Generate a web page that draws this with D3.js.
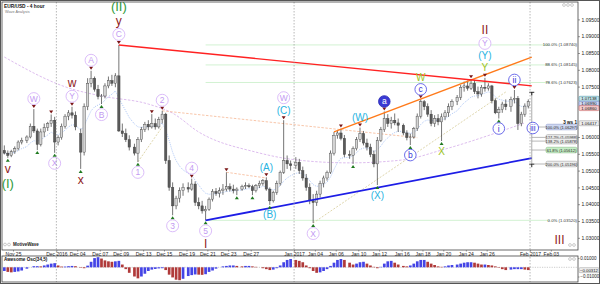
<!DOCTYPE html>
<html lang="en">
<head>
<meta charset="UTF-8">
<title>EUR/USD - 4 hour</title>
<style>
  body { margin: 0; background: #fff; }
  svg { display: block; font-family: "Liberation Sans", Arial, sans-serif; }
  .ax text { font-size: 5px; fill: #222; }
  .ax line { stroke: #555; stroke-width: 0.6; }
  .ax path { display: none; }
</style>
</head>
<body>
<script src="https://d3js.org/d3.v7.min.js"></script>
<script>
// trading days (a one-slot Sunday session sits between weeks)
const days = ["2016-11-24","2016-11-25","2016-11-28","2016-11-29","2016-11-30",
  "2016-12-01","2016-12-02","2016-12-05","2016-12-06","2016-12-07","2016-12-08","2016-12-09",
  "2016-12-12","2016-12-13","2016-12-14","2016-12-15","2016-12-16",
  "2016-12-19","2016-12-20","2016-12-21","2016-12-22","2016-12-23",
  "2016-12-26","2016-12-27","2016-12-28","2016-12-29","2016-12-30",
  "2017-01-02","2017-01-03","2017-01-04","2017-01-05","2017-01-06",
  "2017-01-09","2017-01-10","2017-01-11","2017-01-12","2017-01-13",
  "2017-01-16","2017-01-17","2017-01-18","2017-01-19","2017-01-20",
  "2017-01-23","2017-01-24","2017-01-25","2017-01-26","2017-01-27",
  "2017-01-30","2017-01-31","2017-02-01","2017-02-02","2017-02-03","2017-02-06"];

// 8-hour bars, three per day: open, high, low, close in pips above 1.0000
const ohlc = [
  [560,575,548,552],[552,560,538,545],[545,562,540,556],
  [556,572,550,565],[565,590,560,585],[585,598,578,590],
  [590,605,582,600],[600,640,596,632],[632,683,612,618],
  [618,625,561,578],[578,625,572,615],[615,640,600,628],
  [628,645,618,640],[640,667,630,650],[650,660,553,585],
  [585,605,575,598],[598,640,592,632],[632,668,625,662],
  [662,680,650,672],[672,690,655,665],[665,676,620,630],
  [610,625,505,555],[555,700,545,690],[690,775,680,760],
  [760,797,748,775],[775,780,735,742],[742,755,712,720],
  [720,728,698,722],[722,760,715,752],[752,780,745,768],
  [768,785,752,760],[760,790,748,782],[782,874,615,618],
  [618,640,600,610],[610,625,585,592],[592,605,560,570],
  [570,580,545,552],[552,600,526,592],[592,630,585,622],
  [622,645,615,638],[638,650,620,630],[630,668,625,640],
  [640,655,622,630],[630,660,625,652],[652,678,640,668],
  [668,672,520,530],[530,545,440,450],[450,465,367,395],
  [395,425,385,418],[418,450,405,440],[440,462,425,450],
  [450,465,435,445],[445,476,440,460],[460,468,395,405],
  [405,420,385,395],[395,410,372,380],[380,395,352,385],
  [385,420,380,415],[415,445,408,438],[438,448,425,432],
  [432,450,420,440],[440,460,428,445],[445,495,438,452],
  [452,462,438,445],[445,458,432,440],[440,450,427,445],
  [445,458,440,452],[452,465,445,455],[455,462,448,452],
  [452,458,427,440],[440,460,435,455],[455,470,448,462],
  [462,475,455,470],[470,480,440,445],[445,450,398,410],
  [410,440,405,435],[435,470,428,462],[462,500,455,495],
  [495,650,490,530],[530,545,505,520],[520,530,500,515],
  [515,540,505,525],[525,535,490,500],[500,512,470,478],
  [478,490,440,450],[450,462,400,410],[410,430,344,405],
  [405,440,395,430],[430,470,420,462],[462,485,450,478],
  [478,500,470,495],[495,560,490,552],[552,615,545,605],
  [605,618,595,612],[612,625,590,596],[596,606,540,548],
  [548,560,535,545],[545,572,520,565],[565,600,560,592],
  [592,628,585,610],[610,618,575,582],[582,595,560,570],
  [570,580,540,548],[548,560,510,520],[520,600,457,590],
  [590,630,585,622],[622,676,615,655],[655,668,630,640],
  [640,660,625,650],[650,670,635,642],[642,655,615,635],
  [635,640,605,612],[612,620,590,598],[598,610,576,600],
  [600,630,595,625],[625,670,618,662],[662,712,655,705],
  [705,710,680,690],[690,700,660,668],[668,680,632,640],
  [640,665,630,655],[655,668,635,645],[645,670,588,660],
  [660,680,650,672],[672,700,660,690],[690,712,680,705],
  [705,725,695,718],[718,755,710,748],[748,765,735,752],
  [752,768,738,745],[745,772,740,760],[760,770,728,735],
  [735,750,715,728],[728,755,720,748],[748,776,735,745],
  [745,760,738,752],[752,755,700,708],[708,715,668,672],
  [672,690,655,682],[682,705,672,698],[698,712,680,690],
  [690,720,675,712],[712,740,700,715],[715,722,621,640],
  [640,675,632,668],[668,700,660,692],[692,712,685,705]
];

// Awesome Oscillator, one value per bar, in 0.001
const ao = [
  -4,-5,-5.5, -5,-4.5,-3.5, -1.5,0,1.2, 1.2,1,2, 3,4,4.5, 2,0.8,0.8, 1.2,1.5,1.2,
  -0.5,-1,1.8, 6,10,11, 9.5,7.5,6.5, 6,6.5,7, 3,-2,-6, -10,-12,-10, -7,-4,-2.5,
  -1.8,-1.2,-1, -3,-8,-11, -13.5,-14,-12.5, -9.5,-8.5,-7.8, -8,-8.2,-7.5, -5,-3.5,-1.5,
  0,1,1.5, 2,2,1.5, 1,1.5,1.5, 1,0.5,0, -1,-2,-3, -2.5,-1,2, 5.5,8,9,
  8,7,5.5, 2,-1,-4, -6,-5.5,-4, -2,1.5,5, 8,9,8, 5,3,4, 5.5,6,4,
  2,0.5,-1, 0.5,4,6.5, 7,5,3, 1.5,1,2, 4,6.5,8, 8,6,4, 2.5,1,0.5,
  1,2,2.5, 3,4,5, 5.5,5.5,5, 4,3,3, 2.5,2,1, -0.5,-2,-3, -2.5,-2,-2, -2,-2.5,-3
];

// slow moving average [bar, pips]
const slowMA = [[0,838],[18,746],[27,722],[40,698],[47,671],[54,615],[70,555],
  [81,532],[96,523],[111,532],[122,561],[145,642]];

// wave pivots: bar, side, labels (text, style)
const pivots = [
  [1,"L",[["v","r"],["(I)","g"]]], [8,"H",[["W","p"]]], [9,"L",[]], [13,"H",[]],
  [14,"L",[["X","p"]]], [19,"H",[["Y","p"],["w","r"]]], [21,"L",[["x","r"]]],
  [24,"H",[["A","p"]]], [27,"L",[["B","p"]]], [32,"H",[["C","p"],["y","r"],["(II)","g"]]],
  [37,"L",[["1","p"]]], [41,"H",[]], [44,"H",[["2","p"]]], [47,"L",[["3","p"]]],
  [52,"H",[["4","p"]]], [56,"L",[["5","p"],["I","r"]]], [62,"H",[]], [65,"L",[]], [69,"L",[]],
  [73,"H",[["(A)","c"]]], [74,"L",[["(B)","c"]]], [78,"H",[["(C)","c"],["W","p"]]],
  [86,"L",[["X","p"]]], [94,"H",[]], [97,"L",[]], [99,"H",[["(W)","c"]]],
  [104,"L",[["(X)","c"]]], [106,"H",[["a","B"]]], [113,"L",[["b","b"]]],
  [116,"H",[["c","b"],["W","o"]]], [122,"L",[["X","o"]]], [130,"H",[]],
  [134,"H",[["Y","o"],["(Y)","c"],["Y","p"],["II","r"]]], [138,"L",[["i","b"]]],
  [142,"H",[["ii","b"]]]
];

// trend lines [bar, price]
const redLine = [[32,1.0874],[147,1.0752]];
const orangeLine = [[92,1.0615],[147,1.0838]];
const blueLine = [[56,1.0352],[147,1.0537]];
const tanLines = [[[86,1.0344],[140,1.0734]], [[37,1.0526],[44,1.0630]]];
const salmonLines = [[[44,1.0678],[115,1.0598]], [[62,1.0495],[73,1.0478]]];

const fibRatios = [1, 0.886, 0.786, 0];
const projLevels = [["100.0%", 1.06297], ["127.2%", 1.05988], ["138.2%", 1.05878],
  ["61.8%", 1.05612], ["200.0%", 1.05196]];
const quoteBoxes = [1.07138, 1.06990, 1.06860];
const lineBox = [1.0641, "1.06417"];
const aoBox = -0.00312;

const dateTicks = [["Nov 25","2016-11-25"],["Dec 2016","2016-12-01"],["Dec 04","2016-12-04"],
  ["Dec 07","2016-12-07"],["Dec 09","2016-12-09"],["Dec 13","2016-12-13"],["Dec 15","2016-12-15"],
  ["Dec 19","2016-12-19"],["Dec 21","2016-12-21"],["Dec 23","2016-12-23"],["Dec 27","2016-12-27"],
  ["Jan 2017","2017-01-02"],["Jan 04","2017-01-04"],["Jan 06","2017-01-06"],["Jan 10","2017-01-10"],
  ["Jan 12","2017-01-12"],["Jan 16","2017-01-16"],["Jan 18","2017-01-18"],["Jan 20","2017-01-20"],
  ["Jan 24","2017-01-24"],["Jan 26","2017-01-26"],["Feb 2017","2017-02-01"],["Feb 03","2017-02-03"]];
const monthStarts = ["2016-12-01","2017-01-02","2017-02-01"];
// price ticks; 1.065 and 1.070 sit under the quote boxes
const priceTicks = [1.03,1.035,1.04,1.045,1.05,1.055,1.06,1.075,1.08,1.085,1.09,1.095];

// ---- layout
const W = 600, H = 284;
const M = { l: 2, r: 578, t: 2, b: 250 };
const O = { t: 256, b: 282 };

const parse = d3.timeParse("%Y-%m-%d");
const dayDates = days.map(parse);
const slotOf = [];
let sl = 0;
dayDates.forEach((d, i) => {
  if (i > 0) sl += 6 + (Math.round((d - dayDates[i - 1]) / 864e5) > 1 ? 1 : 0);
  slotOf.push(sl);
});
function slotOfDate(s) {
  const i = days.indexOf(s);
  if (i >= 0) return slotOf[i];
  const d = parse(s);
  return slotOf[dayDates.findIndex(e => e > d)] - 1;
}
const barSlot = k => slotOf[Math.floor(k / 3)] + 2 * (k % 3) + 1;

const x = d3.scaleLinear().domain([0, 331]).range([2.6, 2.6 + 331 * 1.735]);
const y = d3.scaleLinear().domain([1.03, 1.095]).range([237.8, 19.4]);
const yAO = d3.scaleLinear().domain([-0.015, 0.015]).range([281.1, 253.5]);
const bx = k => x(barSlot(k));
const px = v => 1 + v / 10000;
const f5 = d3.format(".5f");

const bars = ohlc.map(([o, h, l, c]) => ({ o: px(o), h: px(h), l: px(l), c: px(c) }));

const svg = d3.select("body").append("svg").attr("width", W).attr("height", H);
svg.append("rect").attr("width", W).attr("height", H).attr("fill", "#fff");
svg.append("clipPath").attr("id", "mc").append("rect")
  .attr("x", M.l).attr("y", M.t).attr("width", M.r - M.l).attr("height", M.b - M.t);
const g = svg.append("g").attr("clip-path", "url(#mc)");

// fib retracement of the C top to the 5 low
const fHi = bars[32].h, fLo = bars[56].l;
fibRatios.forEach(r => {
  const v = fLo + r * (fHi - fLo);
  g.append("line").attr("x1", bx(56)).attr("x2", 550).attr("y1", y(v)).attr("y2", y(v))
    .attr("stroke", "#d2f2d2").attr("stroke-width", 1);
  svg.append("text").attr("x", 577).attr("y", y(v)).attr("text-anchor", "end")
    .attr("dominant-baseline", "central").attr("font-size", 4.3).attr("fill", "#333")
    .text(d3.format(".1f")(r * 100) + "% (" + f5(v) + ")");
});

// month separators
monthStarts.forEach(s => {
  const xv = x(slotOfDate(s));
  svg.append("line").attr("x1", xv).attr("x2", xv).attr("y1", M.t).attr("y2", O.b)
    .attr("stroke", "#999").attr("stroke-width", 0.7).attr("stroke-dasharray", "1.5,1.5");
});

const line = d3.line().x(d => bx(d[0])).y(d => y(d[1]));

// moving averages
g.append("path").attr("d", d3.line().curve(d3.curveMonotoneX)
    .x(d => bx(d[0])).y(d => y(px(d[1])))(slowMA))
  .attr("fill", "none").attr("stroke", "#d9b6ec").attr("stroke-width", 0.9).attr("stroke-dasharray", "2.5,1.5");
const k = 2 / 11;
let ema = bars[0].c;
const emaPts = bars.map((b, i) => { ema = i ? b.c * k + ema * (1 - k) : b.c; return [i, ema]; });
g.append("path").attr("d", line(emaPts)).attr("fill", "none")
  .attr("stroke", "#95b6f2").attr("stroke-width", 0.8).attr("stroke-dasharray", "1,1.2");

tanLines.forEach(l => g.append("path").attr("d", line(l)).attr("fill", "none")
  .attr("stroke", "#d6cc98").attr("stroke-width", 0.8).attr("stroke-dasharray", "2,1.5"));
salmonLines.forEach(l => g.append("path").attr("d", line(l)).attr("fill", "none")
  .attr("stroke", "#f6b894").attr("stroke-width", 0.8).attr("stroke-dasharray", "2.5,1.5"));

// candles
const cg = g.append("g");
bars.forEach((b, i) => {
  const cx = bx(i), up = b.c >= b.o;
  cg.append("line").attr("x1", cx).attr("x2", cx).attr("y1", y(b.h)).attr("y2", y(b.l))
    .attr("stroke", "#3a3a3a").attr("stroke-width", 0.7);
  const top = y(Math.max(b.o, b.c)), bot = y(Math.min(b.o, b.c));
  cg.append("rect").attr("x", cx - 1.2).attr("width", 2.4).attr("y", top)
    .attr("height", Math.max(0.6, bot - top))
    .attr("fill", up ? "#d4d4d4" : "#5a5a5a").attr("stroke", "#3a3a3a").attr("stroke-width", 0.4);
});

// trend lines
g.append("path").attr("d", line(blueLine)).attr("stroke", "#1d1de6").attr("stroke-width", 1.8).attr("fill", "none");
g.append("path").attr("d", line(orangeLine)).attr("stroke", "#ff7a1a").attr("stroke-width", 1.4).attr("fill", "none");
g.append("path").attr("d", line(redLine)).attr("stroke", "#ff2222").attr("stroke-width", 1.4).attr("fill", "none");

// wave labels
const styles = {
  p: { circle: 1, r: 6, fill: "#fff", stroke: "#d2acf8", color: "#c39af2", fs: 8.5, h: 13 },
  b: { circle: 1, r: 5.8, fill: "#fff", stroke: "#4848e4", color: "#3434d6", fs: 8.5, h: 12 },
  B: { circle: 1, r: 5.8, fill: "#3a3ad4", stroke: "#2a2ab4", color: "#fff", fs: 8.5, h: 12 },
  r: { color: "#8e1b1b", fs: 12, h: 14 },
  g: { color: "#2e9a38", fs: 13, h: 15 },
  c: { color: "#27b3df", fs: 10, h: 12 },
  o: { color: "#9cc41e", fs: 10, h: 12 }
};
function waveLabel(cx, cy, t, st) {
  const S = styles[st];
  if (S.circle) g.append("circle").attr("cx", cx).attr("cy", cy).attr("r", S.r)
    .attr("fill", S.fill).attr("stroke", S.stroke).attr("stroke-width", 0.8);
  g.append("text").attr("x", cx).attr("y", cy).attr("text-anchor", "middle")
    .attr("dominant-baseline", "central").attr("font-size", S.fs).attr("fill", S.color).text(t);
}
pivots.forEach(([i, side, labels]) => {
  const hi = side === "H", cx = bx(i);
  const y0 = hi ? y(bars[i].h) : y(bars[i].l), dir = hi ? -1 : 1;
  const ty = y0 + dir * 1;
  g.append("path").attr("d", `M${cx - 2},${ty + dir * 3}L${cx + 2},${ty + dir * 3}L${cx},${ty}Z`)
    .attr("fill", hi ? "#7a1515" : "#1f7a1f");
  let off = 4;
  labels.forEach(([t, st]) => {
    const h = styles[st].h;
    waveLabel(cx, y0 + dir * (off + h / 2), t, st);
    off += h;
  });
});

// projection from wave ii
const pX = bx(147);
g.append("line").attr("x1", pX).attr("x2", pX).attr("y1", y(1.0733)).attr("y2", y(1.0519))
  .attr("stroke", "#888").attr("stroke-width", 0.7);
[1.0733, 1.0519].forEach(v => g.append("path")
  .attr("d", `M${pX - 2.5},${y(v)}H${pX + 2.5}M${pX},${y(v)}V${y(v) + 3}`)
  .attr("stroke", "#111").attr("stroke-width", 0.9));
projLevels.forEach(([r, v], i) => {
  const yy = y(v);
  g.append("line").attr("x1", pX).attr("x2", 546).attr("y1", yy).attr("y2", yy)
    .attr("stroke", "#888").attr("stroke-width", 0.6);
  const fill = i === 0 ? "#cfd8f2" : i === 3 ? "#c6efc6" : "#ececec";
  const stroke = i === 0 ? "#7d8cc4" : i === 3 ? "#7bb27b" : "#999";
  svg.append("rect").attr("x", 546).attr("y", yy - 2.8).attr("width", 31).attr("height", 5.6)
    .attr("rx", 1.5).attr("fill", fill).attr("stroke", stroke).attr("stroke-width", 0.5);
  svg.append("text").attr("x", 561.5).attr("y", yy + 0.2).attr("text-anchor", "middle")
    .attr("dominant-baseline", "central").attr("font-size", 4).attr("fill", "#222")
    .text(r + " (" + f5(v) + ")");
});
waveLabel(pX + 1, y(1.06297) + 1, "iii", "b");
waveLabel(bx(155), y(1.0293), "III", "r");
svg.append("text").attr("x", 577).attr("y", y(lineBox[0]) + 1).attr("text-anchor", "end")
  .attr("font-size", 4.6).attr("font-weight", "bold").attr("fill", "#111").text("3 ws 1");

// frames
svg.append("rect").attr("x", M.l).attr("y", M.t).attr("width", M.r - M.l).attr("height", M.b - M.t)
  .attr("fill", "none").attr("stroke", "#444").attr("stroke-width", 0.8);
svg.append("rect").attr("x", M.l).attr("y", O.t).attr("width", M.r - M.l).attr("height", O.b - O.t)
  .attr("fill", "none").attr("stroke", "#444").attr("stroke-width", 0.8);
svg.append("rect").attr("x", 0.5).attr("y", 0.5).attr("width", W - 1).attr("height", H - 1)
  .attr("fill", "none").attr("stroke", "#555").attr("stroke-width", 1);

// axes
svg.append("g").attr("class", "ax").attr("transform", `translate(${M.r},0)`)
  .call(d3.axisRight(y).tickValues(priceTicks).tickFormat(f5).tickSize(2).tickPadding(1.5));
svg.append("g").attr("class", "ax").attr("transform", `translate(0,${M.b})`)
  .call(d3.axisBottom(x).tickValues(dateTicks.map(d => slotOfDate(d[1])))
    .tickFormat((d, i) => dateTicks[i][0]).tickSize(1.5).tickPadding(0.6));
svg.append("g").attr("class", "ax").attr("transform", `translate(${M.r},0)`)
  .call(d3.axisRight(yAO).tickValues([-0.01, 0.01]).tickFormat(f5).tickSize(1.5).tickPadding(0.8))
  .selectAll("text").style("font-size", "4.5px");

// quote boxes on the price axis
const qc = [["#c3e4ea", "#3f8fa0"], ["#cdd8f4", "#5870c0"], ["#f4cccc", "#c05050"]];
function axisBox(yy, txt, f, s) {
  svg.append("rect").attr("x", 579).attr("y", yy - 2.5).attr("width", 20).attr("height", 5)
    .attr("rx", 1).attr("fill", f).attr("stroke", s).attr("stroke-width", 0.5);
  svg.append("text").attr("x", 589).attr("y", yy).attr("text-anchor", "middle")
    .attr("dominant-baseline", "central").attr("font-size", 4.3).attr("fill", "#111").text(txt);
}
quoteBoxes.forEach((v, i) => axisBox(y(v), f5(v), qc[i][0], qc[i][1]));
axisBox(y(lineBox[0]), lineBox[1], "#eee", "#999");

// oscillator
const aoVals = ao.map(v => v / 1000);
svg.append("line").attr("x1", M.l).attr("x2", M.r).attr("y1", yAO(0)).attr("y2", yAO(0))
  .attr("stroke", "#aaa").attr("stroke-width", 0.6).attr("stroke-dasharray", "1.2,1.2");
svg.append("g").selectAll("rect").data(aoVals).join("rect")
  .attr("x", (d, i) => bx(i) - 1.35).attr("width", 2.7)
  .attr("y", d => yAO(Math.max(0, d))).attr("height", d => Math.abs(yAO(d) - yAO(0)))
  .attr("fill", (d, i) => (i > 0 && d < aoVals[i - 1]) ? "#b03a3a" : "#4444e6");
axisBox(yAO(aoBox), f5(aoBox), "#eee", "#999");

// titles and small icons
svg.append("text").attr("x", 4).attr("y", 7.5).attr("font-size", 4.8).attr("font-weight", "bold")
  .attr("fill", "#111").text("EUR/USD - 4 hour");
svg.append("text").attr("x", 5).attr("y", 13).attr("font-size", 3.8).attr("fill", "#777").text("Wave Analysis");
svg.append("text").attr("x", 4).attr("y", 261).attr("font-size", 4.6).attr("font-weight", "bold")
  .attr("fill", "#111").text("Awesome Osc(34,5)");
svg.append("text").attr("x", 13).attr("y", 246).attr("font-size", 4.5).attr("font-weight", "bold")
  .attr("fill", "#222").text("MotiveWave");
[[5, 244.5], [9, 244.5], [564, 5], [568, 5], [572, 5], [570, 245], [574, 245], [570, 259], [574, 259]]
  .forEach(([cx, cy]) => svg.append("circle").attr("cx", cx).attr("cy", cy).attr("r", 1.4)
    .attr("fill", "none").attr("stroke", "#999").attr("stroke-width", 0.5));
</script>
</body>
</html>
